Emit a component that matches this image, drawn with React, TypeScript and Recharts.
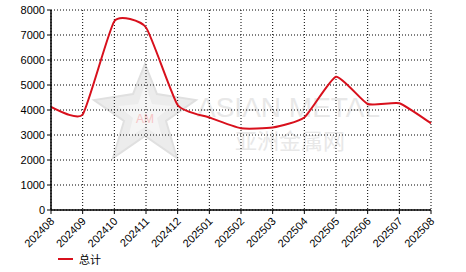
import { LineChart, Line, XAxis, YAxis, CartesianGrid } from "recharts";

document.body.style.margin = "0";

const months = [
  "202408", "202409", "202410", "202411", "202412", "202501", "202502",
  "202503", "202504", "202505", "202506", "202507", "202508",
];
const totals = [4120, 3820, 7550, 7300, 4200, 3700, 3270, 3300, 3700, 5330, 4240, 4270, 3470];
const yTicks = [0, 1000, 2000, 3000, 4000, 5000, 6000, 7000, 8000];

const data = months.map((m, i) => ({ month: m, total: totals[i] }));

// cardinal spline (tension 0.5), like the original's smoothed line
function cardinalCurve(context: any) {
  let pts: number[][] = [];
  const k = 1 / 12;
  return {
    areaStart() {},
    areaEnd() {},
    lineStart() {
      pts = [];
    },
    point(x: number, y: number) {
      pts.push([+x, +y]);
    },
    lineEnd() {
      if (!pts.length) return;
      context.moveTo(pts[0][0], pts[0][1]);
      for (let i = 0; i < pts.length - 1; i++) {
        const p0 = pts[i - 1] || pts[i];
        const p1 = pts[i];
        const p2 = pts[i + 1];
        const p3 = pts[i + 2] || p2;
        context.bezierCurveTo(
          p1[0] + k * (p2[0] - p0[0]),
          p1[1] + k * (p2[1] - p0[1]),
          p2[0] - k * (p3[0] - p1[0]),
          p2[1] - k * (p3[1] - p1[1]),
          p2[0],
          p2[1]
        );
      }
    },
  };
}

const XTick = ({ x, y, payload }: any) => (
  <text
    x={x + 4}
    y={y + 6}
    textAnchor="end"
    fontSize={11}
    fill="#000"
    transform={`rotate(-45, ${x + 4}, ${y + 6})`}
  >
    {payload.value}
  </text>
);

function Watermark() {
  return (
    <svg width={466} height={272} style={{ position: "absolute", left: 0, top: 0 }}>
      <polygon
        points="145,64 157,94 196,100 166,121 177,158 145,136 113,158 124,121 94,100 133,94"
        fill="#ececec"
        stroke="#e0e0e0"
        strokeWidth={2}
      />
      <polygon
        points="145,84 152,104 172,106 157,118 162,138 145,127 128,138 133,118 118,106 138,104"
        fill="#f5f5f5"
      />
      <text x={145} y={123} textAnchor="middle" fontSize={12} fill="#f7c4c4" fontFamily="Arial, sans-serif">
        AM
      </text>
      <text x={197} y={117} fontSize={28} fill="#e8e8e8" fontFamily="Arial, 'Liberation Sans', sans-serif">
        ASIAN METAL
      </text>
      <text x={235} y={149} fontSize={22} fill="#e8e8e8" fontFamily="'Noto Sans CJK SC', sans-serif">
        亚洲金属网
      </text>
    </svg>
  );
}

export default function App() {
  return (
    <div style={{ position: "relative", width: 466, height: 272, background: "#fff", fontFamily: "Arial, 'Liberation Sans', sans-serif" }}>
      <Watermark />
      <div style={{ position: "absolute", left: 0, top: 0 }}>
        <LineChart width={466} height={272} data={data} margin={{ top: 10, right: 35, left: 0, bottom: 0 }}>
          <CartesianGrid stroke="#000" strokeDasharray="1 2" />
          <XAxis
            dataKey="month"
            height={62}
            interval={0}
            tick={<XTick />}
            tickLine={{ stroke: "#000" }}
            tickSize={4}
            axisLine={{ stroke: "#000", strokeWidth: 1.5 }}
            scale="point"
          />
          <YAxis
            width={51}
            domain={[0, 8000]}
            ticks={yTicks}
            interval={0}
            tick={{ fontSize: 11, fill: "#000" }}
            tickLine={{ stroke: "#000" }}
            tickSize={4}
            axisLine={{ stroke: "#000", strokeWidth: 1.5 }}
          />
          <Line
            type={cardinalCurve as any}
            dataKey="total"
            stroke="#d8101c"
            strokeWidth={2}
            dot={false}
            isAnimationActive={false}
          />
        </LineChart>
      </div>
      <div style={{ position: "absolute", left: 58, top: 251, display: "flex", alignItems: "center", fontSize: 11 }}>
        <span style={{ display: "inline-block", width: 15, height: 2, background: "#d8101c", marginRight: 6 }} />
        <span style={{ fontFamily: "'Noto Sans CJK SC', sans-serif" }}>总计</span>
      </div>
    </div>
  );
}
